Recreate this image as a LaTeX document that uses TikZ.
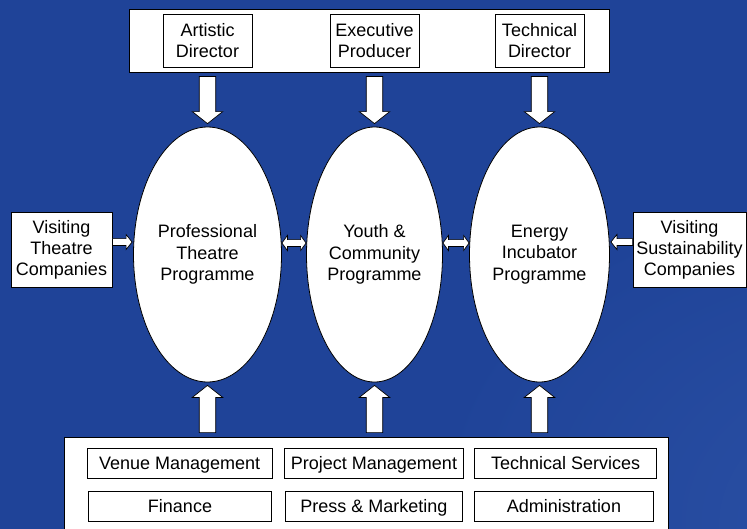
\documentclass[tikz,border=0pt]{standalone}
\usepackage{fontspec}
\setmainfont{Liberation Sans}
\usetikzlibrary{calc}
\usetikzlibrary{shapes.geometric}

\definecolor{bgblue}{RGB}{31,67,152}
\definecolor{cloudblue}{RGB}{46,84,168}
\pgfdeclareradialshading{cloudsky}{\pgfpoint{42bp}{-28bp}}{color(0bp)=(cloudblue); color(28bp)=(bgblue); color(120bp)=(bgblue)}

\tikzset{
  box/.style={draw=black, line width=.8pt, fill=white, inner sep=0pt, align=center,
    font=\fontsize{18}{21}\selectfont},
  deptbox/.style={box, minimum height=30pt, text height=13pt, text depth=1pt},
  prog/.style={ellipse, draw=black, line width=.8pt, fill=white, inner sep=0pt, align=center,
    minimum height=255pt, font=\fontsize{18}{21.5}\selectfont},
  arrowparts/.code n args={3}{\def\arrw{#1}\def\arrh{#2}\def\arrk{#3}},
  blockarrow/.style={draw=black, line width=.7pt, fill=white, to path={
    let \p1=($(\tikztotarget)!\arrk!(\tikztostart)$) in
    ($(\tikztostart)!\arrw!90:(\tikztotarget)$) -- ($(\p1)!\arrw!90:(\tikztotarget)$)
    -- ($(\p1)!\arrh!90:(\tikztotarget)$) -- (\tikztotarget)
    -- ($(\p1)!\arrh!-90:(\tikztotarget)$) -- ($(\p1)!\arrw!-90:(\tikztotarget)$)
    -- ($(\tikztostart)!\arrw!-90:(\tikztotarget)$) -- cycle}},
  twowayarrow/.style={draw=black, line width=.7pt, fill=white, to path={
    let \p1=($(\tikztostart)!\arrk!(\tikztotarget)$), \p2=($(\tikztotarget)!\arrk!(\tikztostart)$) in
    (\tikztostart) -- ($(\p1)!\arrh!90:(\tikztotarget)$) -- ($(\p1)!\arrw!90:(\tikztotarget)$)
    -- ($(\p2)!\arrw!90:(\tikztotarget)$) -- ($(\p2)!\arrh!90:(\tikztotarget)$) -- (\tikztotarget)
    -- ($(\p2)!\arrh!-90:(\tikztotarget)$) -- ($(\p2)!\arrw!-90:(\tikztotarget)$)
    -- ($(\p1)!\arrw!-90:(\tikztotarget)$) -- ($(\p1)!\arrh!-90:(\tikztotarget)$) -- cycle}},
  bigarrow/.style={blockarrow, arrowparts={8.2pt}{15.2pt}{12pt}},
  smallarrow/.style={blockarrow, arrowparts={3.4pt}{7.5pt}{6pt}},
  smalltwoway/.style={twowayarrow, arrowparts={3.4pt}{7.5pt}{5.5pt}},
}

\begin{document}
\begin{tikzpicture}[x=1pt,y=-1pt]
\useasboundingbox (0,0) rectangle (747,528);
\shade[shading=cloudsky] (0,0) rectangle (747,528);

% directors
\node[box, minimum width=480pt, minimum height=63pt] (staff) at (369,40.5) {};
\node[box, minimum width=89pt, minimum height=53pt] (artistic) at (207.5,40.5) {Artistic\\Director};
\node[box, minimum width=89pt, minimum height=53pt] (executive) at (374.5,40.5) {Executive\\Producer};
\node[box, minimum width=89pt, minimum height=53pt] (technical) at (539.5,40.5) {Technical\\Director};

% programmes
\node[prog, minimum width=148pt] (prof) at (207.5,254.5) {Professional\\Theatre\\Programme};
\node[prog, minimum width=136pt] (youth) at (374.5,254.5) {Youth \&\\Community\\Programme};
\node[prog, minimum width=140pt] (energy) at (539.5,254.5) {Energy\\Incubator\\Programme};

\node[box, minimum width=101pt, minimum height=75pt] (visitth) at (61.5,249.5) {Visiting\\Theatre\\Companies};
\node[box, minimum width=113pt, minimum height=75pt] (visitsu) at (689.5,249.5) {Visiting\\Sustainability\\Companies};

% support services
\node[box, minimum width=604pt, minimum height=93pt] (support) at (366,483.5) {};
\node[deptbox, minimum width=185.5pt] (venue) at (179.7,463) {Venue Management};
\node[deptbox, minimum width=179pt] (project) at (374,463) {Project Management};
\node[deptbox, minimum width=182pt] (techserv) at (565.7,463) {Technical Services};
\node[deptbox, minimum width=183pt] (finance) at (180,506) {Finance};
\node[deptbox, minimum width=177pt] (press) at (374,506) {Press \& Marketing};
\node[deptbox, minimum width=179pt] (admin) at (564,506) {Administration};

\coordinate (d1s) at ($(artistic |- staff.south)+(0,4)$);
\coordinate (d1e) at ($(artistic |- prof.north)+(0,-3)$);
\coordinate (d2s) at ($(executive |- staff.south)+(0,4)$);
\coordinate (d2e) at ($(executive |- youth.north)+(0,-3)$);
\coordinate (d3s) at ($(technical |- staff.south)+(0,4)$);
\coordinate (d3e) at ($(technical |- energy.north)+(0,-3)$);
\coordinate (u1s) at ($(prof |- support.north)+(0,-4)$);
\coordinate (u1e) at ($(prof.south)+(0,3)$);
\coordinate (u2s) at ($(youth |- support.north)+(0,-4)$);
\coordinate (u2e) at ($(youth.south)+(0,3)$);
\coordinate (u3s) at ($(energy |- support.north)+(0,-4)$);
\coordinate (u3e) at ($(energy.south)+(0,3)$);
\coordinate (l1s) at ($(visitth.east)+(0,-7.5)$);
\coordinate (l1e) at ($(visitth.east -| prof.west)+(-1,-7.5)$);
\coordinate (r1s) at ($(visitsu.west)+(0,-7.5)$);
\coordinate (r1e) at ($(visitsu.west -| energy.east)+(1,-7.5)$);
\coordinate (b1s) at ($(prof.east)+(0,-11.5)$);
\coordinate (b1e) at ($(prof.east -| youth.west)+(0,-11.5)$);
\coordinate (b2s) at ($(youth.east)+(0,-11.5)$);
\coordinate (b2e) at ($(youth.east -| energy.west)+(0,-11.5)$);

\draw[bigarrow] (d1s) to (d1e);
\draw[bigarrow] (d2s) to (d2e);
\draw[bigarrow] (d3s) to (d3e);
\draw[bigarrow] (u1s) to (u1e);
\draw[bigarrow] (u2s) to (u2e);
\draw[bigarrow] (u3s) to (u3e);
\draw[smallarrow] (l1s) to (l1e);
\draw[smallarrow] (r1s) to (r1e);
\draw[smalltwoway] (b1s) to (b1e);
\draw[smalltwoway] (b2s) to (b2e);
\end{tikzpicture}
\end{document}
